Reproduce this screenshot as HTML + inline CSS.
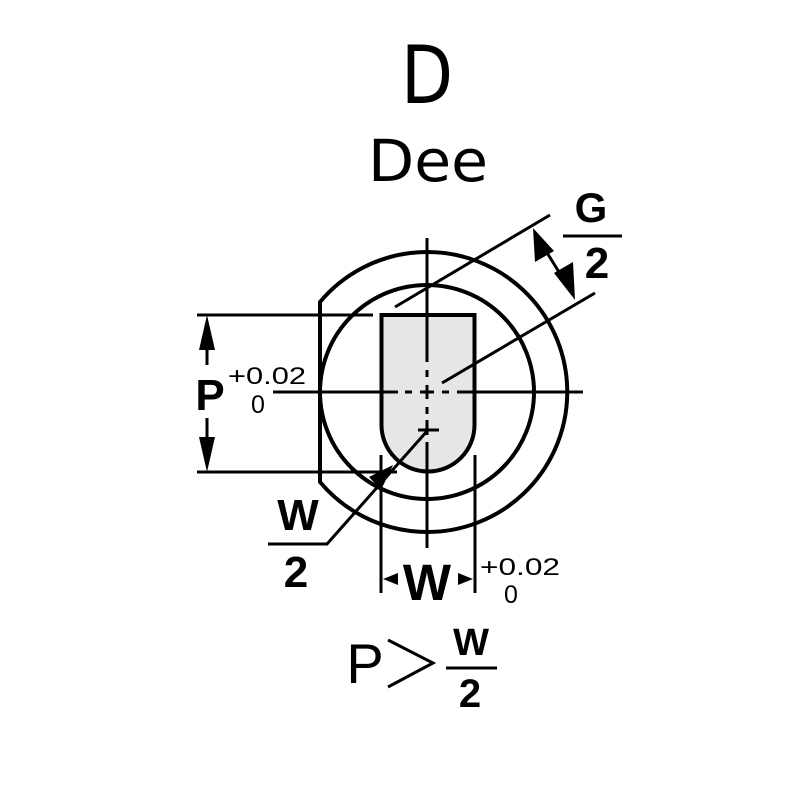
<!DOCTYPE html>
<html><head><meta charset="utf-8"><style>html,body{margin:0;padding:0;background:#fff}svg{display:block}</style></head>
<body>
<svg width="800" height="800" viewBox="0 0 800 800" xmlns="http://www.w3.org/2000/svg" font-family="Liberation Sans, sans-serif">
<rect width="800" height="800" fill="#fff"/>
<text x="427" y="103" font-size="80" text-anchor="middle" font-family="DejaVu Sans, sans-serif" textLength="52" lengthAdjust="spacingAndGlyphs">D</text>
<text x="428" y="181" font-size="58" text-anchor="middle" font-family="DejaVu Sans, sans-serif" textLength="120" lengthAdjust="spacingAndGlyphs">Dee</text>

<path d="M381.5 315 H474.5 V425 A46.5 46.5 0 0 1 381.5 425 Z" fill="#e6e6e6" stroke="#000" stroke-width="4"/>
<path d="M320 302 A140 140 0 1 1 320 482 Z" fill="none" stroke="#000" stroke-width="4"/>
<circle cx="427" cy="392" r="107" fill="none" stroke="#000" stroke-width="4"/>

<g stroke="#000" stroke-width="3" fill="none">
<line x1="273" y1="392" x2="398" y2="392"/>
<line x1="405" y1="392" x2="412" y2="392"/>
<line x1="420" y1="392" x2="434" y2="392"/>
<line x1="442" y1="392" x2="449" y2="392"/>
<line x1="457" y1="392" x2="583" y2="392"/>
<line x1="427" y1="238" x2="427" y2="362"/>
<line x1="427" y1="370" x2="427" y2="377"/>
<line x1="427" y1="385" x2="427" y2="399"/>
<line x1="427" y1="407" x2="427" y2="414"/>
<line x1="427" y1="420" x2="427" y2="435"/>
<line x1="427" y1="442" x2="427" y2="548"/>
<line x1="418" y1="430" x2="439" y2="430"/>
<line x1="197" y1="315" x2="373" y2="315"/>
<line x1="197" y1="472" x2="397" y2="472"/>
<line x1="207" y1="330" x2="207" y2="365"/>
<line x1="207" y1="418" x2="207" y2="460"/>
<line x1="395" y1="307" x2="550" y2="215"/>
<line x1="442" y1="383" x2="595" y2="293"/>
<line x1="541" y1="243" x2="567" y2="285"/>
<line x1="563" y1="236" x2="622" y2="236"/>
<polyline points="268,544 327,544 428,430"/>
<line x1="381" y1="455" x2="381" y2="593"/>
<line x1="475" y1="455" x2="475" y2="593"/>
<line x1="446" y1="668" x2="497" y2="668" stroke-width="3"/>
<polyline points="388,640 433,663 388,687"/>
</g>
<g fill="#000">
<polygon points="207,315 199,350 215,350"/>
<polygon points="207,472 199,437 215,437"/>
<polygon points="533,228 535,262 554,251"/>
<polygon points="575,300 554,273 573,262"/>
<polygon points="393,465 369,477 381,490"/>
<polygon points="383,579 398,573 398,585"/>
<polygon points="473,579 458,573 458,585"/>
</g>
<g font-weight="bold" text-anchor="middle">
<text x="210" y="410" font-size="44">P</text>
<text x="591" y="222" font-size="42">G</text>
<text x="597" y="278" font-size="44">2</text>
<text x="298" y="530" font-size="44">W</text>
<text x="296" y="587" font-size="44">2</text>
<text x="427" y="600" font-size="51">W</text>
<text x="471" y="655" font-size="38">W</text>
<text x="470" y="707" font-size="40">2</text>
</g>
<text x="228" y="384" font-size="24" textLength="78" lengthAdjust="spacingAndGlyphs">+0.02</text>
<text x="251" y="413" font-size="25">0</text>
<text x="480" y="575" font-size="24" textLength="80" lengthAdjust="spacingAndGlyphs">+0.02</text>
<text x="504" y="603" font-size="25">0</text>
<text x="365" y="683" font-size="56" text-anchor="middle">P</text>
</svg>
</body></html>
